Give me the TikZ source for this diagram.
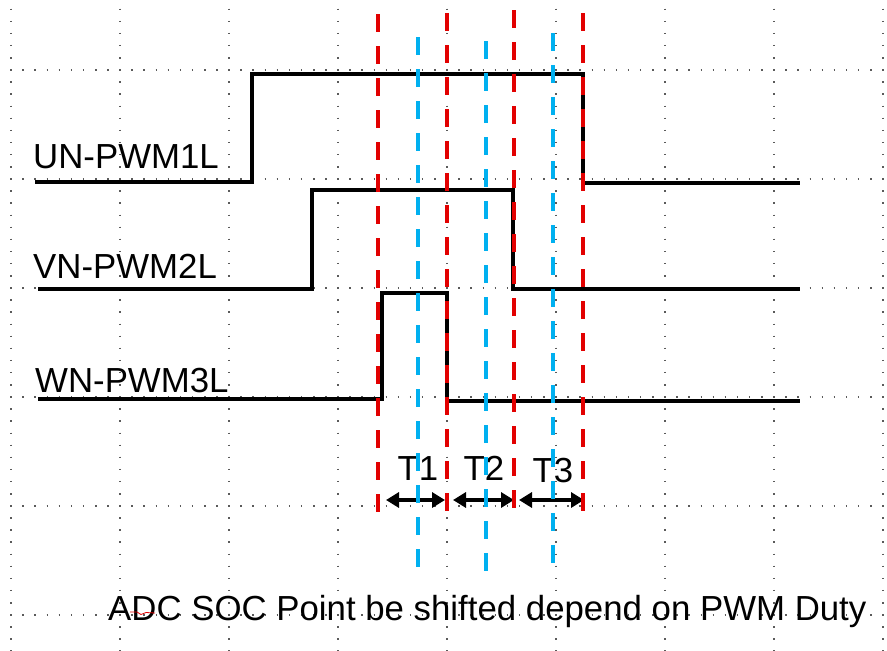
\documentclass[tikz,border=0pt]{standalone}
\usepackage{fontspec}
\setmainfont{Liberation Sans}
\usetikzlibrary{arrows.meta}
\definecolor{markred}{RGB}{226,0,0}
\definecolor{sampleblue}{RGB}{0,176,240}
\definecolor{griddot}{RGB}{90,90,90}
\tikzset{
  griddots/.style={griddot, line width=1.5pt, dash pattern=on 1.5pt off 10.61pt},
  wave/.style={black, line width=4.2pt, line join=miter},
  edgemark/.style={markred, line width=4pt, dash pattern=on 18pt off 14pt},
  samplemark/.style={sampleblue, line width=4pt, dash pattern=on 18pt off 14pt},
  span/.style={black, line width=3.6pt, {Triangle[width=15pt,length=13pt]}-{Triangle[width=15pt,length=13pt]}},
  siglabel/.style={anchor=base west, inner sep=0pt, font=\fontsize{34.8}{40}\selectfont},
  spanlabel/.style={anchor=base, inner sep=0pt, font=\fontsize{34.8}{40}\selectfont}
}
\begin{document}
\begin{tikzpicture}[x=1pt, y=-1pt]
\useasboundingbox (0,0) rectangle (887,651);
\fill[white] (0,0) rectangle (887,651);

% dotted background grid
\foreach \i in {0,...,8}
  \draw[griddots] ({11+109*\i},8.65) -- ({11+109*\i},651);
\foreach \j in {0,...,5}
  \draw[griddots] (10.25,{70+109*\j}) -- (887,{70+109*\j});

% phase waveforms
\draw[wave] (35,182) -- (252,182) -- (252,74) -- (583,74) -- (583,183) -- (800,183);
\draw[wave] (38,289) -- (312,289) -- (312,190) -- (513,190) -- (513,289) -- (800,289);
\draw[wave] (38,399) -- (382,399) -- (382,293) -- (447,293) -- (447,401) -- (800,401);

% signal names
\node[siglabel] (un) at (33,168) {UN-PWM1L};
\node[siglabel] (vn) at (33,278) {VN-PWM2L};
\node[siglabel] (wn) at (35,392) {WN-PWM3L};

% interval arrows
\coordinate (a1) at (386,500);
\coordinate (b1) at (445,500);
\coordinate (a2) at (453,500);
\coordinate (b2) at (514,500);
\coordinate (a3) at (519,500);
\coordinate (b3) at (584,500);
\draw[span] (a1) -- (b1);
\draw[span] (a2) -- (b2);
\draw[span] (a3) -- (b3);
\node[spanlabel] (t1) at (418,480) {T1};
\node[spanlabel] (t2) at (484,480) {T2};
\node[spanlabel] (t3) at (553,482) {T3};

% switching edges
\draw[edgemark] (378,14) -- (378,518);
\draw[edgemark] (447,13) -- (447,518);
\draw[edgemark] (514,10) -- (514,516);
\draw[edgemark] (583,13) -- (583,518);

% sampling points
\draw[samplemark] (418,37) -- (418,572);
\draw[samplemark] (486,41) -- (486,578);
\draw[samplemark] (553,33) -- (553,572);

% caption
\node[siglabel] (cap) at (108,620) {ADC SOC Point be shifted depend on PWM Duty};
\draw[markred, line width=0.8pt] (130,612) -- (137,612) -- (141,614.5) -- (146,612.5) -- (155,613);
\end{tikzpicture}
\end{document}
